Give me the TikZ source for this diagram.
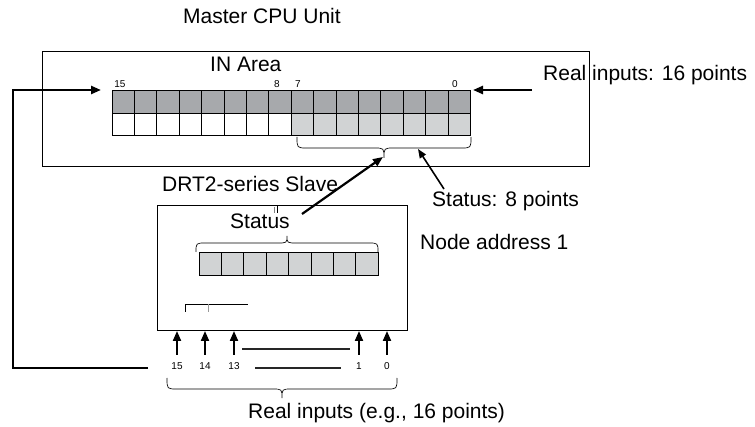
\documentclass[tikz,border=0pt]{standalone}
\usepackage{fontspec}
\setmainfont{Liberation Sans}
\usetikzlibrary{arrows.meta}
\definecolor{darkcell}{HTML}{A7A9AC}
\definecolor{lightcell}{HTML}{D1D3D4}
\begin{document}
\begin{tikzpicture}[x=1pt,y=-1pt,
  lbl/.style={font=\fontsize{21}{24}\selectfont, inner sep=0pt, anchor=base west},
  bitlbl/.style={font=\fontsize{10}{12}\selectfont, inner sep=0pt, anchor=base},
  frame/.style={draw=black, line width=0.9pt},
  celld/.style={fill=darkcell, draw=black, line width=1pt},
  cellw/.style={fill=white, draw=black, line width=1pt},
  celll/.style={fill=lightcell, draw=black, line width=1pt},
  thinln/.style={draw=black, line width=0.7pt},
  fat/.style={draw=black, line width=2.4pt, line join=miter, -{Triangle[length=10pt,width=8pt]}},
  med/.style={draw=black, line width=1.6pt, -{Triangle[length=9pt,width=7pt]}},
  dotln/.style={draw=black!85, line width=1.5pt}
]
\useasboundingbox (0,0) rectangle (755,427);
% master box
\draw[frame] (42,51) rectangle (589,166);
\node[lbl] (master) at (183,24) {Master CPU Unit};
\node[lbl] (inarea) at (210,72) {IN Area};
% IN grid
\foreach \i in {0,...,15} {
  \draw[celld] ({112+22.4*\i},91) rectangle ++(22.4,22.5);
}
\foreach \i in {0,...,7} {
  \draw[cellw] ({112+22.4*\i},113.5) rectangle ++(22.4,22.5);
}
\foreach \i in {8,...,15} {
  \draw[celll] ({112+22.4*\i},113.5) rectangle ++(22.4,22.5);
}
\node[bitlbl] (b15) at (120,88) {15};
\node[bitlbl] (b8) at (277,88) {8};
\node[bitlbl] (b7) at (298,88) {7};
\node[bitlbl] (b0) at (455,88) {0};
% real inputs label and arrow
\node[lbl] (realin) at (543,81) {Real inputs: 16 points};
\coordinate (rin0) at (532,90);
\coordinate (rin1) at (473,90);
\draw[fat] (rin0) -- (rin1);
% brace under status bits
\draw[thinln] (297,137) .. controls (297,148) .. (307,148) -- (374,148)
  .. controls (384,148) .. (384,158) .. controls (384,148) .. (394,148)
  -- (461,148) .. controls (471,148) .. (471,137);
\coordinate (tbrace) at (383,157);
% status 8 points
\node[lbl] (st8) at (432,207) {Status: 8 points};
\coordinate (st8a) at (444,189);
\coordinate (st8b) at (418,149);
\draw[med] (st8a) -- (st8b);
\node[lbl] (nodeaddr) at (420,250) {Node address 1};
% slave box
\node[lbl] (slave) at (162,192) {DRT2-series Slave};
\draw[frame] (157,205) rectangle (407,330);
\node[lbl] (status) at (230,229) {Status};
\draw[draw=black!50, line width=0.5pt] (274.5,207) -- (274.5,213);
\draw[draw=black, line width=0.7pt] (277.5,205.5) -- (277.5,213);
\coordinate (sta) at (302,214);
\draw[fat, line width=2.2pt] (sta) -- (tbrace);
% slave brace (up)
\draw[thinln] (196,252) .. controls (196,243) .. (206,243) -- (277,243)
  .. controls (287,243) .. (287,236) .. controls (287,243) .. (297,243)
  -- (368,243) .. controls (378,243) .. (378,252);
% slave grid
\foreach \i in {0,...,7} {
  \draw[celll] ({199+22.4*\i},253) rectangle ++(22.4,23);
}
% small bracket
\draw[thinln] (185,312) -- (185,304) -- (248,304);
\draw[draw=black!40, line width=0.5pt] (208,304) -- (208,312);
% input arrows
\foreach \x/\t [count=\k] in {177/15,205/14,234/13,359/1,387/0} {
  \coordinate (ia\k) at (\x,355);
  \coordinate (ib\k) at (\x,331);
  \draw[fat, line width=2pt] (ia\k) -- (ib\k);
  \node[bitlbl] (il\k) at (\x,370) {\t};
}
\draw[dotln] (242,349) -- (350,349);
\draw[dotln] (255,368) -- (341,368);
% bottom brace
\draw[thinln] (167,378) .. controls (167,389) .. (177,389) -- (272,389)
  .. controls (282,389) .. (282,398) .. controls (282,389) .. (292,389)
  -- (387,389) .. controls (397,389) .. (397,378);
\node[lbl] (realeg) at (248,418) {Real inputs (e.g., 16 points)};
% feedback line
\coordinate (fb0) at (148,368);
\coordinate (fb1) at (13,368);
\coordinate (fb2) at (13,90);
\coordinate (fb3) at (101,90);
\draw[fat] (fb0) -- (fb1) -- (fb2) -- (fb3);
\end{tikzpicture}
\end{document}
